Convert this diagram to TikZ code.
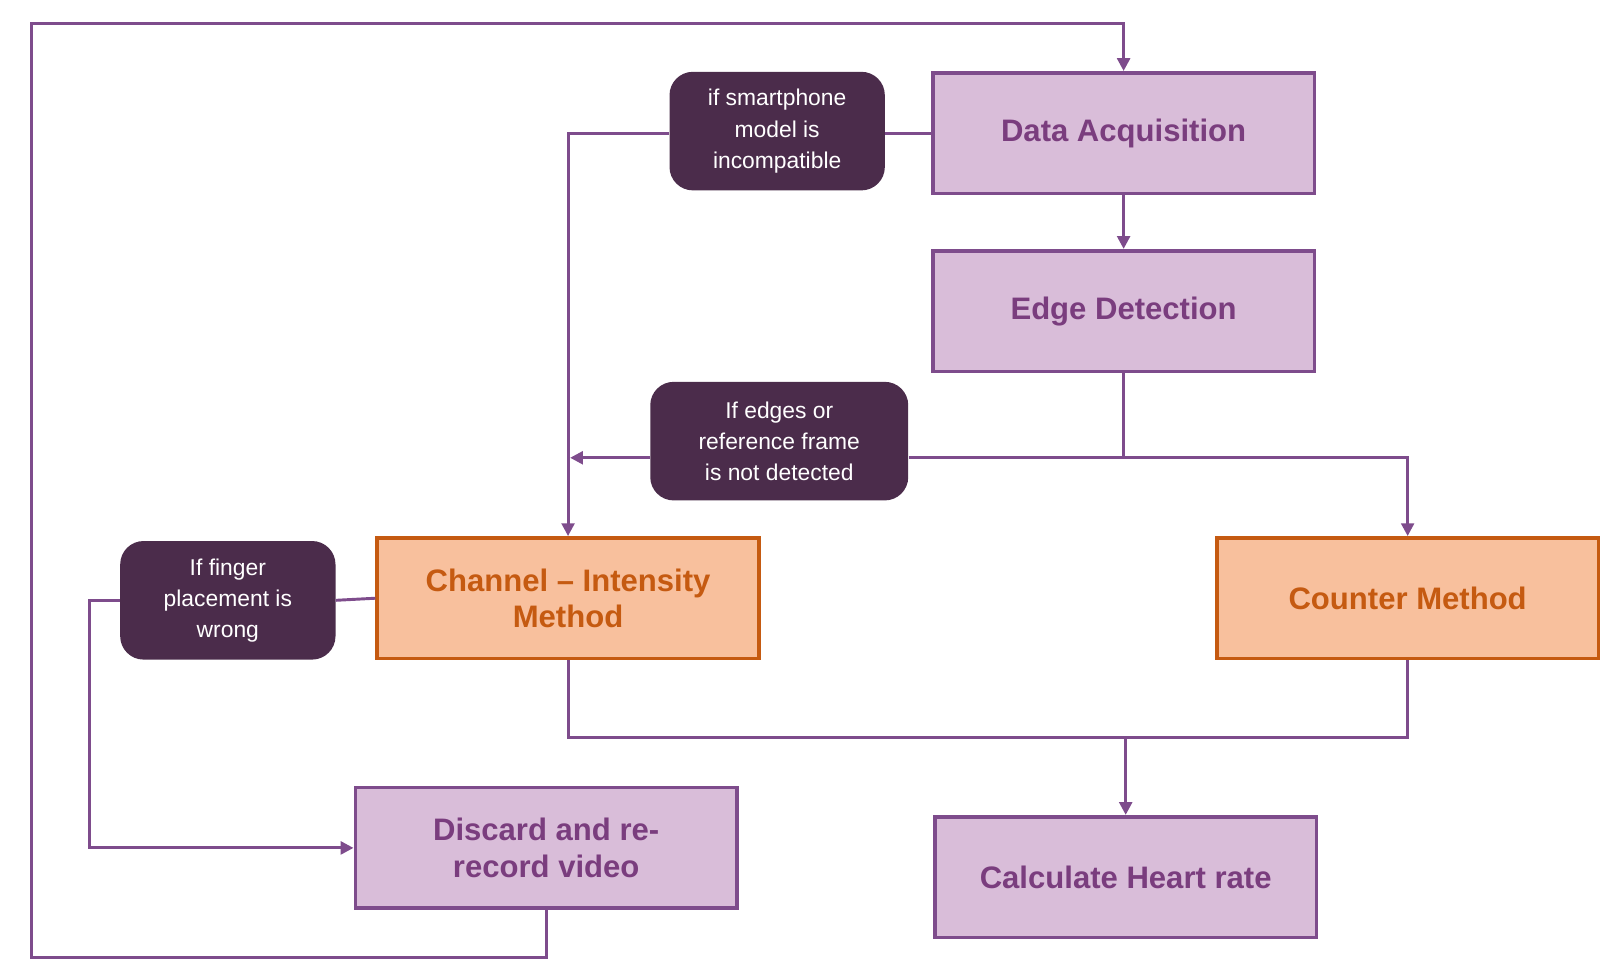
\documentclass[tikz,border=0pt]{standalone}
\usepackage{fontspec}
\setmainfont{Liberation Sans}
\usetikzlibrary{arrows.meta}
\definecolor{pfill}{HTML}{D9BDD9}
\definecolor{pline}{HTML}{7E4C8C}
\definecolor{ptext}{HTML}{7A3D7E}
\definecolor{ofill}{HTML}{F8C09D}
\definecolor{oline}{HTML}{C55A11}
\definecolor{cfill}{HTML}{4B2C4B}
\begin{document}
\begin{tikzpicture}[x=0.02cm,y=-0.02cm,
  pbox/.style={draw=pline,line width=2pt,fill=pfill,text=ptext,font=\fontsize{17}{20}\selectfont\bfseries,align=center,minimum width=7.34cm,minimum height=2.32cm,inner sep=0pt},
  obox/.style={draw=oline,line width=2pt,fill=ofill,text=oline,font=\fontsize{17}{20}\selectfont\bfseries,align=center,minimum width=7.34cm,minimum height=2.32cm,inner sep=0pt},
  call/.style={fill=cfill,text=white,rounded corners=0.45cm,font=\fontsize{12.5}{17}\selectfont,align=center,minimum height=2.28cm,inner sep=0pt},
  ln/.style={draw=pline,line width=1.6pt},
  ar/.style={ln,-{Triangle[length=7pt,width=7pt]}}]
\useasboundingbox (0,0) rectangle (1560,941);
\node[pbox] (da) at (1080,128) {Data Acquisition};
\node[pbox] (ed) at (1080,299) {Edge Detection};
\node[call,minimum width=4.14cm] (c1) at (747,126) {if smartphone\\model is\\incompatible};
\node[call,minimum width=4.96cm] (c2) at (749,424) {If edges or\\reference frame\\is not detected};
\node[obox] (cim) at (546,575) {Channel -- Intensity\\Method};
\node[obox] (cm) at (1353,575) {Counter Method};
\node[call,minimum width=4.14cm] (c3) at (219,577) {If finger\\placement is\\wrong};
\node[pbox] (dis) at (525,815) {Discard and re-\\record video};
\node[pbox] (chr) at (1082,843) {Calculate Heart rate};
\coordinate (j1) at (1080,440);
\coordinate (j2) at (548,440);
\coordinate (j3) at (1082,709);
% loop back
\draw[ar] (dis.south) -- (525,920) -| (30,23) -| (da.north);
% DA -> callout1 -> CIM
\draw[ln] (da.west) -- (c1.east |- da.west);
\draw[ar] (c1.west |- 0,128) -| (cim.north);
\draw[ar] (da.south) -- (ed.north);
% ED -> branches
\draw[ln] (ed.south) -- (j1) -- (c2.east |- j1);
\draw[ar] (c2.west |- j1) -- (j2);
\draw[ar] (j1) -| (cm.north);
% CIM -> callout3 -> discard
\draw[ln] (cim.west) -- (c3.east);
\draw[ar] (c3.west) -- (86,577) |- (dis.west);
% to heart rate
\draw[ln] (cim.south) |- (j3) -| (cm.south);
\draw[ar] (j3) -- (chr.north);
\end{tikzpicture}
\end{document}
